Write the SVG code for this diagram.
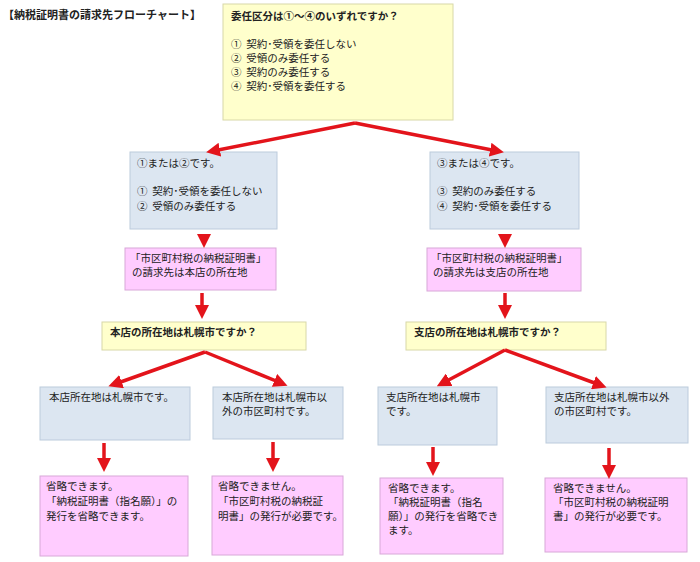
<svg xmlns="http://www.w3.org/2000/svg" width="700" height="562" viewBox="0 0 700 562">
<style>
text{font-family:"Noto Sans CJK JP","Liberation Sans",sans-serif;font-size:10.5px;fill:#222;white-space:pre}
.b{font-weight:bold}
.y{fill:#ffffcc;stroke:#d8d8a8;stroke-width:1}
.u{fill:#dce6f1;stroke:#bccbdc;stroke-width:1}
.p{fill:#ffccff;stroke:#d8a8d8;stroke-width:1}
.c{stroke:#e3141b;stroke-width:3.5;fill:none;marker-end:url(#a)}
</style>
<defs><marker id="a" markerWidth="4" markerHeight="4" refX="2" refY="2" orient="auto" markerUnits="strokeWidth"><path d="M0,0L4,2L0,4z" fill="#e3141b"/></marker></defs>
<rect width="700" height="562" fill="#fff"/>
<text x="3" y="19" class="b" style="font-size:11px">【納税証明書の請求先フローチャート】</text>
<g id="top"><rect class="y" x="223" y="4" width="230" height="116"/>
<text x="231" y="20" class="b">委任区分は①～④のいずれですか？</text>
<text x="231" y="48">①  契約･受領を委任しない</text><text x="231" y="62">②  受領のみ委任する</text><text x="231" y="76">③  契約のみ委任する</text><text x="231" y="90">④  契約･受領を委任する</text></g>
<g id="L1"><rect class="u" x="130" y="152" width="147" height="77"/>
<text x="137" y="167">①または②です。</text><text x="137" y="195">①  契約･受領を委任しない</text><text x="137" y="210">②  受領のみ委任する</text></g>
<g id="R1"><rect class="u" x="430" y="152" width="149" height="77"/>
<text x="437" y="167">③または④です。</text><text x="437" y="195">③  契約のみ委任する</text><text x="437" y="210">④  契約･受領を委任する</text></g>
<g id="L2"><rect class="p" x="125" y="248" width="151" height="42"/>
<text x="130" y="262">「市区町村税の納税証明書」</text><text x="132" y="276">の請求先は本店の所在地</text></g>
<g id="R2"><rect class="p" x="427" y="248" width="154" height="43"/>
<text x="431" y="262">「市区町村税の納税証明書」</text><text x="433" y="276">の請求先は支店の所在地</text></g>
<g id="L3"><rect class="y" x="102" y="322" width="204" height="28"/><text x="110" y="336" class="b">本店の所在地は札幌市ですか？</text></g>
<g id="R3"><rect class="y" x="406" y="322" width="200" height="28"/><text x="414" y="336" class="b">支店の所在地は札幌市ですか？</text></g>
<g id="LL"><rect class="u" x="40" y="387" width="150" height="53"/><text x="49" y="401">本店所在地は札幌市です。</text></g>
<g id="LR"><rect class="u" x="213" y="387" width="130" height="52"/><text x="222" y="401">本店所在地は札幌市以</text><text x="222" y="415">外の市区町村です。</text></g>
<g id="RL"><rect class="u" x="378" y="387" width="119" height="58"/><text x="386" y="401">支店所在地は札幌市</text><text x="386" y="415">です。</text></g>
<g id="RR"><rect class="u" x="546" y="387" width="142" height="56"/><text x="554" y="401">支店所在地は札幌市以外</text><text x="554" y="415">の市区町村です。</text></g>
<g id="LLe"><rect class="p" x="40" y="476" width="148" height="80"/><text x="46" y="490">省略できます。</text><text x="46" y="505">「納税証明書（指名願）」の</text><text x="46" y="520">発行を省略できます。</text></g>
<g id="LRe"><rect class="p" x="212" y="476" width="131" height="79"/><text x="218" y="490">省略できません。</text><text x="218" y="505">「市区町村税の納税証</text><text x="218" y="520">明書」の発行が必要です。</text></g>
<g id="RLe"><rect class="p" x="380" y="478" width="123" height="76"/><text x="388" y="492">省略できます。</text><text x="388" y="506">「納税証明書（指名</text><text x="388" y="520">願）」の発行を省略でき</text><text x="388" y="534">ます。</text></g>
<g id="RRe"><rect class="p" x="545" y="478" width="142" height="74"/><text x="553" y="492">省略できません。</text><text x="553" y="506">「市区町村税の納税証明</text><text x="553" y="520">書」の発行が必要です。</text></g>
<g id="connectors">
<path class="c" d="M355,123L213,151"/><path class="c" d="M355,123L497,151"/>
<path class="c" d="M204,234L204,241"/><path class="c" d="M505,234L505,241"/>
<path class="c" d="M202,293L202,312"/><path class="c" d="M505,293L505,312"/>
<path class="c" d="M205,352L115,384"/><path class="c" d="M205,352L281,383"/>
<path class="c" d="M505,350L443,383"/><path class="c" d="M505,350L600,385"/>
<path class="c" d="M104,443L104,465"/><path class="c" d="M273,442L273,465"/>
<path class="c" d="M433,447L433,469"/><path class="c" d="M609,448L609,472"/>
</g>
</svg>
